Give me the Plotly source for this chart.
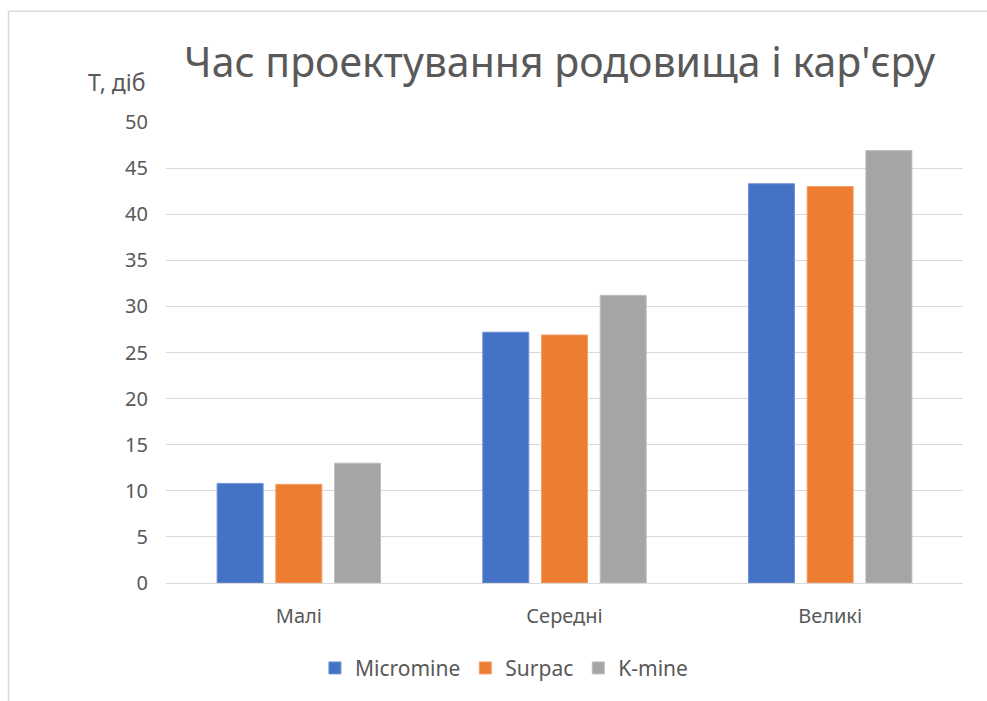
import plotly.graph_objects as go

categories = ["Малі", "Середні", "Великі"]
micromine = [10.8, 27.2, 43.3]
surpac = [10.7, 26.9, 43.0]
kmine = [13.0, 31.2, 46.9]
series_names = ["Micromine", "Surpac", "K-mine"]
series_colors = ["#4472C4", "#ED7D31", "#A5A5A5"]
edge_colors = ["#6f93d3", "#f3a06a", "#bdbdbd"]
title_text = "Час проектування родовища і кар'єру"
y_title = "Т, діб"
y_ticks = [0, 5, 10, 15, 20, 25, 30, 35, 40, 45, 50]

FONT = "Noto Sans"
TXT = "#595959"

fig = go.Figure()
for name, vals, col, ec in zip(series_names, [micromine, surpac, kmine], series_colors, edge_colors):
    fig.add_trace(go.Bar(x=categories, y=vals, name=name,
                         marker=dict(color=col, line=dict(color=ec, width=1))))

fig.update_layout(
    width=987, height=701,
    margin=dict(l=166, r=24, t=122, b=115),
    paper_bgcolor="white", plot_bgcolor="white",
    barmode="group", bargap=0.337, bargroupgap=0.216,
    font=dict(family=FONT, color=TXT, size=20),
    title=dict(text=title_text, x=0.567, xanchor="center", xref="container",
               y=0.91, yanchor="middle", yref="container",
               font=dict(family=FONT, size=41, color=TXT)),
    legend=dict(orientation="h", x=0.424, xanchor="center", y=-0.185, yanchor="middle",
                font=dict(family=FONT, size=21, color=TXT), itemwidth=30,
                traceorder="normal"),
    showlegend=True,
)
fig.update_yaxes(range=[0, 50], tickvals=y_ticks, showgrid=True, gridcolor="#d9d9d9",
                 gridwidth=1, zeroline=False, showline=False, ticks="",
                 ticklabelstandoff=17, tickfont=dict(size=20, color=TXT))
fig.update_xaxes(showline=True, linecolor="#d9d9d9", linewidth=1, ticks="",
                 ticklabelstandoff=15, tickfont=dict(size=20, color=TXT))

fig.add_annotation(text=y_title, xref="paper", yref="paper", x=-0.0627, y=1.086,
                   xanchor="center", yanchor="middle", showarrow=False,
                   font=dict(family=FONT, size=23, color=TXT))

# chart border (top and left edges visible)
fig.add_shape(type="line", xref="paper", yref="paper", x0=-0.1976, x1=1.04, y0=1.2403, y1=1.2403,
              line=dict(color="#d9d9d9", width=1.5))
fig.add_shape(type="line", xref="paper", yref="paper", x0=-0.1976, x1=-0.1976, y0=1.2403, y1=-0.26,
              line=dict(color="#d9d9d9", width=1.5))

fig.write_html("out.html")
